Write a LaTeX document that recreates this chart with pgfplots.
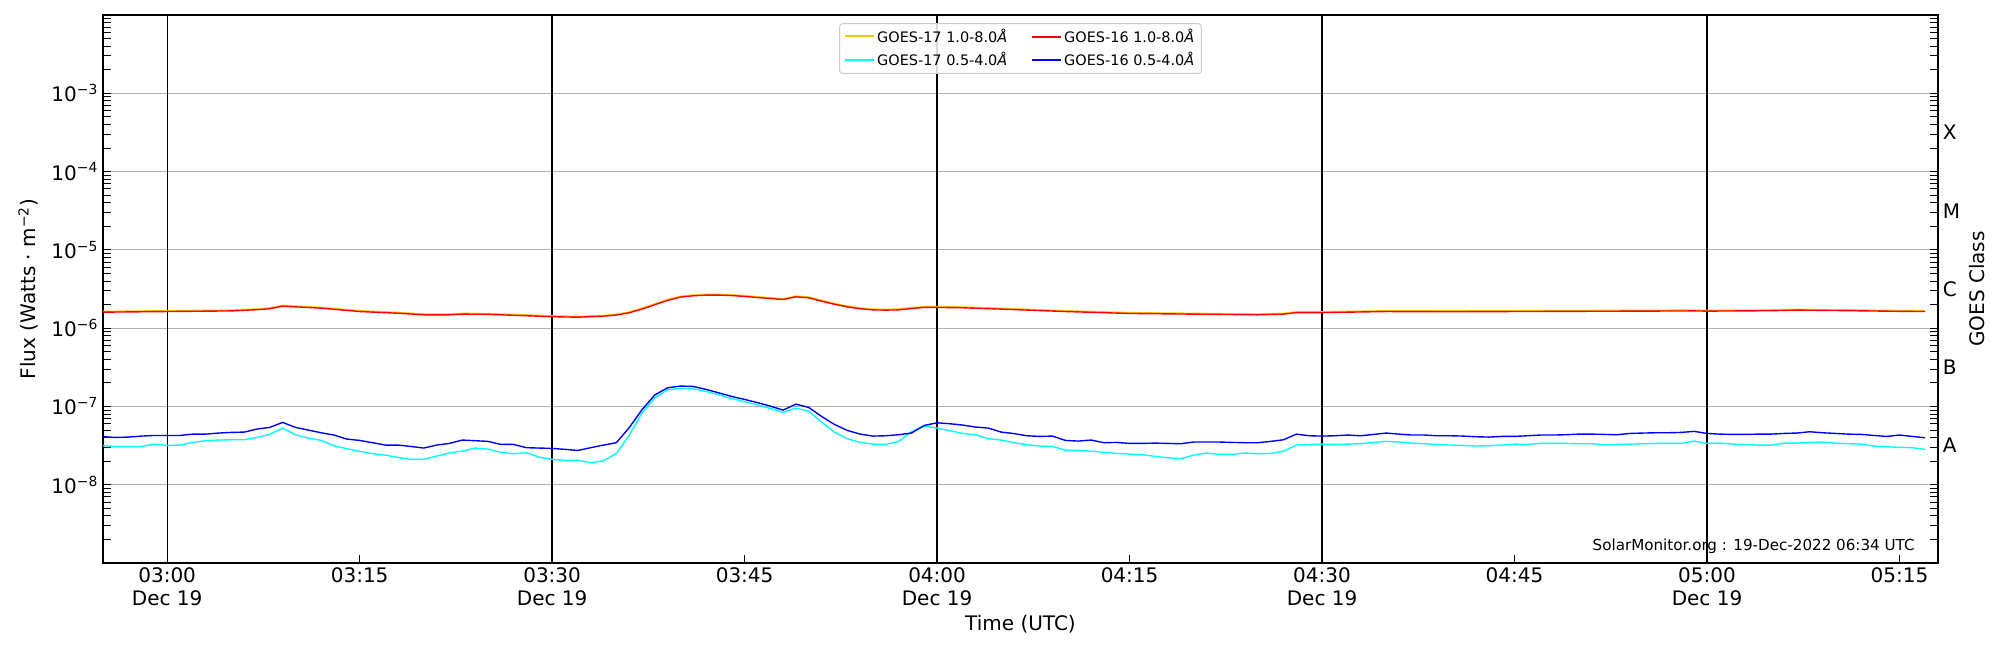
\documentclass[border=0pt]{standalone}
\usepackage{fontspec}
\setmainfont{DejaVu Sans}
\usepackage{pgfplots}
\usepackage{pgfplotstable}
\pgfplotsset{compat=1.18}
\definecolor{goesyellow}{RGB}{255,200,0}
\definecolor{goescyan}{RGB}{0,255,255}
\definecolor{goesblue}{RGB}{0,0,255}
\definecolor{goesred}{RGB}{255,0,0}
\definecolor{gridgray}{RGB}{176,176,176}
\definecolor{legframe}{RGB}{204,204,204}

% GOES 1.0-8.0 A flux (minutes after 03:00 UTC)
\pgfplotstableread{
t f
-5 1.60e-6
0 1.63e-6
5 1.66e-6
7 1.72e-6
8 1.77e-6
9 1.91e-6
10 1.87e-6
12 1.80e-6
15 1.63e-6
18 1.55e-6
20 1.48e-6
22 1.48e-6
23 1.51e-6
25 1.50e-6
28 1.44e-6
30 1.40e-6
32 1.38e-6
34 1.42e-6
35 1.47e-6
36 1.57e-6
37 1.75e-6
38 1.99e-6
39 2.26e-6
40 2.49e-6
41 2.59e-6
42 2.64e-6
43 2.64e-6
44 2.61e-6
45 2.54e-6
46 2.46e-6
47 2.39e-6
48 2.32e-6
49 2.51e-6
50 2.44e-6
51 2.21e-6
52 2.02e-6
53 1.87e-6
54 1.77e-6
55 1.71e-6
56 1.70e-6
57 1.71e-6
58 1.78e-6
59 1.84e-6
60 1.84e-6
62 1.82e-6
65 1.75e-6
70 1.63e-6
75 1.54e-6
80 1.51e-6
85 1.48e-6
87 1.51e-6
88 1.58e-6
90 1.58e-6
95 1.63e-6
100 1.62e-6
105 1.63e-6
110 1.64e-6
115 1.65e-6
119 1.66e-6
120 1.65e-6
125 1.67e-6
127 1.70e-6
130 1.68e-6
135 1.64e-6
137 1.63e-6
}\longtab

% GOES 0.5-4.0 A flux: c = GOES-17, b = GOES-16
\pgfplotstableread{
t c b
-5 3.15e-8 4.10e-8
-4 3.08e-8 4.02e-8
-3 3.05e-8 4.06e-8
-2 3.08e-8 4.18e-8
-1 3.30e-8 4.26e-8
0 3.18e-8 4.26e-8
1 3.21e-8 4.26e-8
2 3.47e-8 4.43e-8
3 3.65e-8 4.43e-8
4 3.72e-8 4.57e-8
5 3.75e-8 4.66e-8
6 3.75e-8 4.70e-8
7 4.02e-8 5.14e-8
8 4.39e-8 5.40e-8
9 5.29e-8 6.25e-8
10 4.35e-8 5.40e-8
11 3.94e-8 4.99e-8
12 3.68e-8 4.61e-8
13 3.15e-8 4.31e-8
14 2.88e-8 3.83e-8
15 2.67e-8 3.68e-8
16 2.49e-8 3.44e-8
17 2.39e-8 3.21e-8
18 2.23e-8 3.21e-8
19 2.11e-8 3.08e-8
20 2.11e-8 2.94e-8
21 2.32e-8 3.21e-8
22 2.54e-8 3.37e-8
23 2.69e-8 3.72e-8
24 2.94e-8 3.65e-8
25 2.85e-8 3.58e-8
26 2.59e-8 3.27e-8
27 2.49e-8 3.27e-8
28 2.56e-8 2.97e-8
29 2.25e-8 2.94e-8
30 2.11e-8 2.91e-8
31 2.05e-8 2.83e-8
32 2.05e-8 2.74e-8
33 1.91e-8 2.97e-8
34 2.02e-8 3.21e-8
35 2.51e-8 3.44e-8
36 4.26e-8 5.34e-8
37 8.22e-8 9.06e-8
38 1.29e-7 1.40e-7
39 1.63e-7 1.73e-7
40 1.70e-7 1.82e-7
41 1.68e-7 1.80e-7
42 1.55e-7 1.65e-7
43 1.41e-7 1.49e-7
44 1.26e-7 1.34e-7
45 1.15e-7 1.23e-7
46 1.05e-7 1.12e-7
47 9.42e-8 1.01e-7
48 8.38e-8 8.97e-8
49 9.52e-8 1.07e-7
50 8.71e-8 9.71e-8
51 6.31e-8 7.45e-8
52 4.70e-8 5.89e-8
53 3.87e-8 4.94e-8
54 3.47e-8 4.43e-8
55 3.30e-8 4.18e-8
56 3.27e-8 4.22e-8
57 3.58e-8 4.35e-8
58 4.75e-8 4.57e-8
59 5.61e-8 5.72e-8
60 5.29e-8 6.18e-8
61 4.89e-8 6.01e-8
62 4.52e-8 5.78e-8
63 4.35e-8 5.45e-8
64 3.87e-8 5.29e-8
65 3.72e-8 4.70e-8
66 3.44e-8 4.50e-8
67 3.24e-8 4.22e-8
68 3.12e-8 4.14e-8
69 3.08e-8 4.18e-8
70 2.77e-8 3.68e-8
71 2.74e-8 3.61e-8
72 2.69e-8 3.72e-8
73 2.59e-8 3.44e-8
74 2.51e-8 3.47e-8
75 2.46e-8 3.37e-8
76 2.42e-8 3.37e-8
77 2.30e-8 3.40e-8
78 2.21e-8 3.37e-8
79 2.15e-8 3.34e-8
80 2.39e-8 3.51e-8
81 2.54e-8 3.51e-8
82 2.44e-8 3.51e-8
83 2.44e-8 3.47e-8
84 2.54e-8 3.44e-8
85 2.49e-8 3.44e-8
86 2.51e-8 3.58e-8
87 2.69e-8 3.75e-8
88 3.21e-8 4.43e-8
89 3.27e-8 4.22e-8
90 3.30e-8 4.18e-8
91 3.27e-8 4.22e-8
92 3.30e-8 4.31e-8
93 3.34e-8 4.22e-8
94 3.47e-8 4.39e-8
95 3.58e-8 4.57e-8
96 3.51e-8 4.43e-8
97 3.40e-8 4.31e-8
98 3.34e-8 4.31e-8
99 3.27e-8 4.22e-8
100 3.21e-8 4.22e-8
101 3.18e-8 4.18e-8
102 3.12e-8 4.10e-8
103 3.15e-8 4.06e-8
104 3.21e-8 4.14e-8
105 3.30e-8 4.14e-8
106 3.27e-8 4.22e-8
107 3.37e-8 4.31e-8
108 3.37e-8 4.31e-8
109 3.37e-8 4.35e-8
110 3.34e-8 4.43e-8
111 3.34e-8 4.43e-8
112 3.24e-8 4.39e-8
113 3.27e-8 4.35e-8
114 3.30e-8 4.52e-8
115 3.34e-8 4.57e-8
116 3.37e-8 4.61e-8
117 3.37e-8 4.61e-8
118 3.37e-8 4.66e-8
119 3.61e-8 4.80e-8
120 3.37e-8 4.52e-8
121 3.40e-8 4.43e-8
122 3.30e-8 4.39e-8
123 3.27e-8 4.39e-8
124 3.21e-8 4.43e-8
125 3.21e-8 4.43e-8
126 3.40e-8 4.52e-8
127 3.40e-8 4.57e-8
128 3.47e-8 4.75e-8
129 3.51e-8 4.61e-8
130 3.40e-8 4.52e-8
131 3.34e-8 4.43e-8
132 3.30e-8 4.39e-8
133 3.12e-8 4.26e-8
134 3.05e-8 4.14e-8
135 3.00e-8 4.31e-8
136 2.97e-8 4.14e-8
137 2.83e-8 3.98e-8
}\shorttab

\begin{document}
\begin{tikzpicture}
\path[use as bounding box] (-74.16pt,-62.64pt) rectangle (1365.84pt,405.36pt);
\begin{axis}[
  at={(0pt,0pt)}, anchor=south west, scale only axis,
  width=1321.2pt, height=394.56pt,
  xmin=-5, xmax=138,
  ymode=log, ymin=1e-9, ymax=1e-2,
  axis line style={line width=0.9pt},
  xtick={0,15,...,135},
  xticklabels={{03:00\\Dec 19},03:15,{03:30\\Dec 19},03:45,{04:00\\Dec 19},04:15,{04:30\\Dec 19},04:45,{05:00\\Dec 19},05:15},
  xtick pos=left, ytick pos=both, tick align=inside,
  ytick={1e-8,1e-7,1e-6,1e-5,1e-4,1e-3},
  yticklabels={10\textsuperscript{−8},10\textsuperscript{−7},10\textsuperscript{−6},10\textsuperscript{−5},10\textsuperscript{−4},10\textsuperscript{−3}},
  minor ytick={2e-9,3e-9,4e-9,5e-9,6e-9,7e-9,8e-9,9e-9,
    2e-8,3e-8,4e-8,5e-8,6e-8,7e-8,8e-8,9e-8,
    2e-7,3e-7,4e-7,5e-7,6e-7,7e-7,8e-7,9e-7,
    2e-6,3e-6,4e-6,5e-6,6e-6,7e-6,8e-6,9e-6,
    2e-5,3e-5,4e-5,5e-5,6e-5,7e-5,8e-5,9e-5,
    2e-4,3e-4,4e-4,5e-4,6e-4,7e-4,8e-4,9e-4,
    2e-3,3e-3,4e-3,5e-3,6e-3,7e-3,8e-3,9e-3},
  major tick length=5.8pt, minor tick length=5.8pt,
  tick style={black, line width=0.7pt},
  ymajorgrids, major grid style={gridgray, line width=0.75pt},
  xticklabel style={align=center, font=\fontsize{14.4}{16.5}\selectfont},
  yticklabel style={font=\fontsize{14.4}{16.5}\selectfont},
  label style={font=\fontsize{14.4}{16.5}\selectfont},
  xlabel={Time (UTC)},
  ylabel={Flux (Watts · m\textsuperscript{−2})},
  ylabel style={xshift=0pt, yshift=2.5pt},
  legend columns=2,
  legend cell align=left,
  legend image code/.code={\draw[#1] (0pt,0pt) -- (21pt,0pt);},
  legend style={at={(0.5,0.985)}, anchor=north, draw=legframe, line width=0.7pt,
    rounded corners=2pt, fill=white, fill opacity=0.85, text opacity=1,
    font=\fontsize{10.4}{12.5}\selectfont, row sep=1.5pt,
    /tikz/every even column/.append style={column sep=15pt}},
]
\draw[black, line width=0.9pt] (axis cs:0,1e-9) -- (axis cs:0,1e-2);
\draw[black, line width=0.9pt] (axis cs:30,1e-9) -- (axis cs:30,1e-2);
\draw[black, line width=0.9pt] (axis cs:60,1e-9) -- (axis cs:60,1e-2);
\draw[black, line width=0.9pt] (axis cs:90,1e-9) -- (axis cs:90,1e-2);
\draw[black, line width=0.9pt] (axis cs:120,1e-9) -- (axis cs:120,1e-2);
\addplot[goesyellow, line width=1pt, yshift=0.6pt] table[x=t, y=f] {\longtab};
\addlegendentry{GOES-17 1.0-8.0\textit{Å}}
\addplot[goesred, line width=1pt] table[x=t, y=f] {\longtab};
\addlegendentry{GOES-16 1.0-8.0\textit{Å}}
\addplot[goescyan, line width=1pt] table[x=t, y=c] {\shorttab};
\addlegendentry{GOES-17 0.5-4.0\textit{Å}}
\addplot[goesblue, line width=1pt] table[x=t, y=b] {\shorttab};
\addlegendentry{GOES-16 0.5-4.0\textit{Å}}
\node[anchor=east, inner sep=0pt, font=\fontsize{10.9}{13}\selectfont, xshift=-16.6pt, yshift=12.2pt]
  at (rel axis cs:1,0) {SolarMonitor.org : 19-Dec-2022 06:34 UTC};
\end{axis}
\begin{axis}[
  at={(0pt,0pt)}, anchor=south west, scale only axis,
  width=1321.2pt, height=394.56pt,
  xmin=-5, xmax=138,
  ymode=log, ymin=1e-9, ymax=1e-2,
  hide x axis, axis y line*=right,
  axis line style={line width=0.9pt},
  ytick={3.1623e-8,3.1623e-7,3.1623e-6,3.1623e-5,3.1623e-4},
  yticklabels={A,B,C,M,X},
  minor ytick={},
  tick style={draw=none},
  yticklabel style={font=\fontsize{14.4}{16.5}\selectfont},
  label style={font=\fontsize{14.4}{16.5}\selectfont},
  ylabel={GOES Class},
]
\end{axis}
\end{tikzpicture}
\end{document}
